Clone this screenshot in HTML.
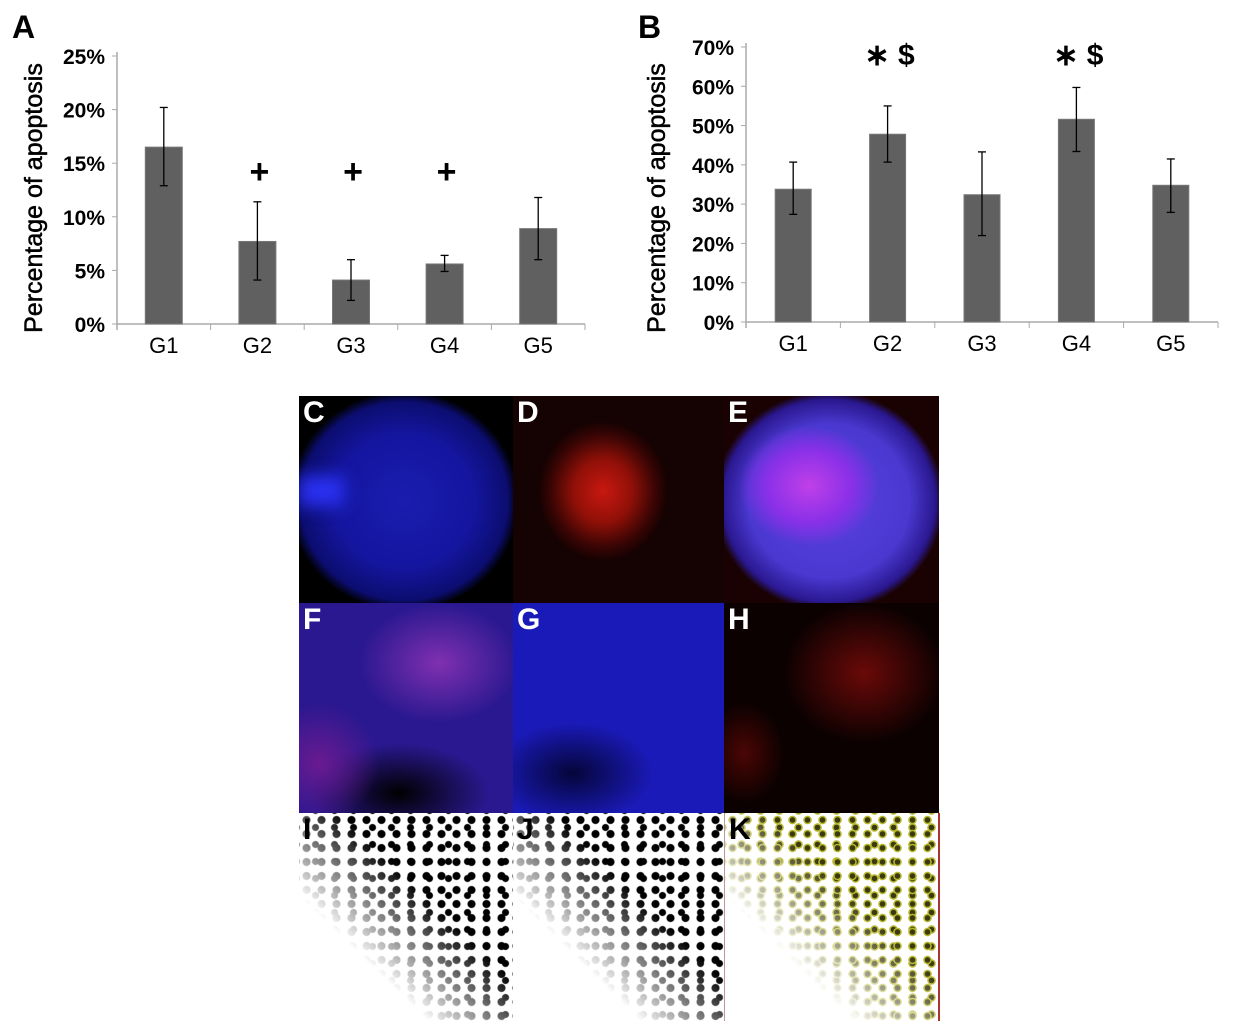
<!DOCTYPE html>
<html><head><meta charset="utf-8">
<style>
body{margin:0;width:1240px;height:1031px;background:#fff;position:relative;overflow:hidden;font-family:"Liberation Sans",Arial,sans-serif}
svg text{font-family:"Liberation Sans",Arial,sans-serif}
.p{position:absolute;overflow:hidden}
.lbl{position:absolute;left:4px;top:2px;color:#fff;font-weight:bold;font-size:30px;line-height:30px}
.dots{position:absolute;inset:0;background-image:radial-gradient(circle,#000 0 3.5px,transparent 4.5px),radial-gradient(circle,#000 0 3px,transparent 4px);background-size:15px 14px,19px 17px;background-position:0 0,7px 6px;-webkit-mask-image:linear-gradient(to top right,transparent 0%,transparent 30%,rgba(0,0,0,.5) 45%,#000 60%)}
</style></head><body>
<svg id="chart" width="1240" height="390" style="position:absolute;left:0;top:0"></svg>

<div class="p" style="left:299px;top:396px;width:214px;height:207px;background:radial-gradient(ellipse 115px 110px at 105px 105px,#1a1cae 0%,#1416a0 60%,#0c0d70 90%,#000 100%)"><div style="position:absolute;left:0;top:80px;width:45px;height:30px;background:#2a30f0;filter:blur(8px)"></div><span class="lbl">C</span></div>
<div class="p" style="left:513px;top:396px;width:211px;height:207px;background:radial-gradient(ellipse 65px 70px at 90px 95px,#c81810 0%,#901008 45%,#3a0504 80%,transparent 100%),#150202"><span class="lbl">D</span></div>
<div class="p" style="left:724px;top:396px;width:215px;height:207px;background:radial-gradient(ellipse 70px 60px at 85px 90px,#c040e8 0%,#8a30e8 60%,transparent 100%),radial-gradient(ellipse 115px 110px at 105px 105px,#5a40e0 0%,#4a38d0 70%,#2a1890 92%,#1a0202 100%)"><span class="lbl">E</span></div>

<div class="p" style="left:299px;top:603px;width:214px;height:210px;background:radial-gradient(ellipse 80px 60px at 140px 60px,#8030b0,transparent),radial-gradient(ellipse 60px 60px at 20px 160px,#6a1a90,transparent),radial-gradient(ellipse 90px 50px at 100px 190px,#000 0,transparent),#2a1890"><span class="lbl">F</span></div>
<div class="p" style="left:513px;top:603px;width:211px;height:210px;background:radial-gradient(ellipse 80px 50px at 60px 170px,#05053a,transparent),#1a1ab8"><span class="lbl">G</span></div>
<div class="p" style="left:724px;top:603px;width:215px;height:210px;background:radial-gradient(ellipse 80px 70px at 140px 70px,#6a0a08,transparent),radial-gradient(ellipse 40px 50px at 20px 150px,#4a0604,transparent),#0c0101"><span class="lbl">H</span></div>

<div class="p" style="left:299px;top:813px;width:214px;height:208px;background:#fff"><div class="dots"></div><span class="lbl" style="color:#000">I</span></div>
<div class="p" style="left:513px;top:813px;width:211px;height:208px;background:#fff"><div class="dots"></div><span class="lbl" style="color:#000">J</span></div>
<div class="p" style="left:724px;top:813px;width:213px;height:208px;background:#fff;border-left:1px solid #b99;border-right:2px solid #a33"><div class="dots" style="background-image:radial-gradient(circle,#3a3a10 0 2.5px,#b8b830 3px 4px,transparent 4.5px),radial-gradient(circle,#3a3a10 0 2.5px,#b8b830 3px 4px,transparent 4.5px)"></div><span class="lbl" style="color:#000">K</span></div>

<script>
const categories=["G1","G2","G3","G4","G5"];
const valuesA=[16.5,7.7,4.1,5.6,8.9];
const errHiA=[20.2,11.4,6.0,6.4,11.8];
const errLoA=[12.9,4.1,2.2,4.9,6.0];
const ticksA=[0,5,10,15,20,25];
const marksA=["","+","+","+",""];
const valuesB=[33.8,47.8,32.4,51.6,34.8];
const errHiB=[40.7,55.0,43.3,59.7,41.5];
const errLoB=[27.4,40.7,22.0,43.4,27.9];
const ticksB=[0,10,20,30,40,50,60,70];
const marksB=["","∗ $","","∗ $",""];
const NS="http://www.w3.org/2000/svg";
const svg=document.getElementById('chart');
function mk(tag,attrs,name,txt){const e=document.createElementNS(NS,tag);for(const k in attrs)e.setAttribute(k,attrs[k]);


if(txt!==undefined)e.textContent=txt;svg.appendChild(e);return e;}
function draw(c){
 const y=v=>c.y0-(v-c.vmin)/(c.vmax-c.vmin)*(c.y0-c.y1);
 const step=(c.x1-c.x0)/categories.length;
 mk('line',{x1:c.x0,y1:c.y1-4,x2:c.x0,y2:c.y0+6,stroke:'#aaa','stroke-width':1.5},c.id+'-y-axis');
 mk('line',{x1:c.x0,y1:c.y0,x2:c.x1,y2:c.y0,stroke:'#aaa','stroke-width':1.5},c.id+'-x-axis');
 c.ticks.forEach(t=>{mk('line',{x1:c.x0-5,y1:y(t),x2:c.x0,y2:y(t),stroke:'#aaa'},c.id+'-y-tick');
  mk('text',{x:c.x0-12,y:y(t)+8,'text-anchor':'end','font-size':21,'font-weight':'bold'},c.id+'-y-tick-label',t+'%');});
 for(let i=0;i<=categories.length;i++)mk('line',{x1:c.x0+i*step,y1:c.y0,x2:c.x0+i*step,y2:c.y0+6,stroke:'#aaa'},c.id+'-x-tick');
 categories.forEach((g,i)=>{const cx=c.x0+step*(i+0.5);
  mk('rect',{x:cx-c.bw/2,y:y(c.vals[i]),width:c.bw,height:c.y0-y(c.vals[i]),fill:'#606060',stroke:'#777'},c.id+'-bar-'+g.toLowerCase());
  mk('line',{x1:cx,y1:y(c.hi[i]),x2:cx,y2:y(c.lo[i]),stroke:'#000','stroke-width':1.3},c.id+'-error-bar');
  mk('line',{x1:cx-4,y1:y(c.hi[i]),x2:cx+4,y2:y(c.hi[i]),stroke:'#000','stroke-width':1.3},c.id+'-error-cap');
  mk('line',{x1:cx-4,y1:y(c.lo[i]),x2:cx+4,y2:y(c.lo[i]),stroke:'#000','stroke-width':1.3},c.id+'-error-cap');
  mk('text',{x:cx,y:c.y0+29,'text-anchor':'middle','font-size':22},c.id+'-x-label',g);
  if(c.marks[i])mk('text',{x:cx+2,y:c.markY,'text-anchor':'middle','font-size':c.markSize,'font-weight':'bold','font-family':'Liberation Serif'},c.id+'-significance-mark',c.marks[i]);
 });
 mk('text',{x:c.tx,y:c.ty,'text-anchor':'middle','font-size':25,'stroke':'#000','stroke-width':0.5,transform:`rotate(-90 ${c.tx} ${c.ty})`},c.id+'-y-axis-title','Percentage of apoptosis');
 mk('text',{x:c.lx,y:38,'font-size':32,'font-weight':'bold'},c.id+'-panel-label',c.id.toUpperCase());
}
draw({id:'a',x0:117,x1:585,y0:324,y1:56,vmin:0,vmax:25,ticks:ticksA,vals:valuesA,hi:errHiA,lo:errLoA,marks:marksA,bw:37,markY:183,markSize:34,tx:42,ty:198,lx:12});
draw({id:'b',x0:746,x1:1218,y0:322,y1:47,vmin:0,vmax:70,ticks:ticksB,vals:valuesB,hi:errHiB,lo:errLoB,marks:marksB,bw:36,markY:65,markSize:30,tx:665,ty:198,lx:638});
</script>
</body></html>
